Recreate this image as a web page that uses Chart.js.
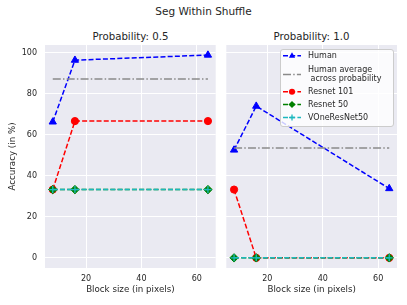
<!DOCTYPE html>
<html><head><meta charset="utf-8">
<script src="https://cdn.jsdelivr.net/npm/chart.js@4/dist/chart.umd.min.js"></script>
<style>
html,body{margin:0;padding:0;background:#fff;width:407px;height:305px;overflow:hidden;font-family:"DejaVu Sans",sans-serif;color:#262626}
.t{position:absolute;white-space:nowrap;transform:translate(-50%,-50%);}
#c1{position:absolute;left:0;top:0}
#c2{position:absolute;left:221px;top:0}
</style></head><body>
<div class="t" style="left:203.5px;top:11px;font-size:10.5px">Seg Within Shuffle</div>
<div class="t" style="left:130.5px;top:36px;font-size:10.2px">Probability: 0.5</div>
<div class="t" style="left:311.5px;top:36px;font-size:10.2px">Probability: 1.0</div>
<canvas id="c1" width="221" height="305"></canvas>
<canvas id="c2" width="186" height="305"></canvas>
<script>
const blockSizes = [8, 16, 64];
const probabilities = ["0.5", "1.0"];
const human_p05 = [66.3, 96.4, 98.9];
const humanAvg_p05 = [87.2, 87.2];
const resnet101_p05 = [33.3, 66.7, 66.7];
const resnet50_p05 = [33.3, 33.3, 33.3];
const vone_p05 = [33.3, 33.3, 33.3];
const human_p10 = [52.6, 74.0, 33.8];
const humanAvg_p10 = [53.6, 53.6];
const resnet101_p10 = [33.3, 0, 0];
const resnet50_p10 = [0, 0, 0];
const vone_p10 = [0, 0, 0];
const yTicks = [0, 20, 40, 60, 80, 100];
const xTicks = [20, 40, 60];
const legendLabels = ["Human", ["Human average", " across probability"], "Resnet 101", "Resnet 50", "VOneResNet50"];

const BLUE = "#0000ff", GRAY = "#8a8a8a", RED = "#ff0000", GREEN = "#008000", TEAL = "#1cb8bf";
const DASH = [5, 2.2], DASHDOT = [8, 2.2, 1.5, 2.2];
const TXT = "#262626";
const FONT = "DejaVu Sans";

function pts(xs, ys){ return ys.map((y,i)=>({x:xs[i], y:y})); }

function datasets(h, avg, r101, r50, v){
  return [
    {label:"Human", data:pts(blockSizes,h), borderColor:BLUE, backgroundColor:BLUE, borderDash:DASH, borderWidth:1.5, pointStyle:"triangle", pointRadius:4.2, pointBorderWidth:1, order:5},
    {label:"Human average across probability", data:pts([blockSizes[0], blockSizes[2]], avg), borderColor:GRAY, backgroundColor:GRAY, borderDash:DASHDOT, borderWidth:1.5, pointRadius:0, order:4},
    {label:"Resnet 101", data:pts(blockSizes,r101), borderColor:RED, backgroundColor:RED, borderDash:DASH, borderWidth:1.5, pointStyle:"circle", pointRadius:3.6, pointBorderWidth:1, order:3},
    {label:"Resnet 50", data:pts(blockSizes,r50), borderColor:GREEN, backgroundColor:GREEN, borderDash:DASH, borderWidth:1.5, pointStyle:"rectRot", pointRadius:4.2, pointBorderWidth:1, order:2},
    {label:"VOneResNet50", data:pts(blockSizes,v), borderColor:TEAL, backgroundColor:TEAL, borderDash:DASH, borderWidth:1.5, pointStyle:"cross", pointRadius:3.5, pointBorderWidth:1.3, order:1}
  ];
}

const bgPlugin = {
  id:"bg",
  beforeDraw(chart){
    const {ctx, chartArea:a} = chart;
    ctx.save(); ctx.fillStyle="#eaeaf2"; ctx.fillRect(a.left, a.top, a.right-a.left, a.bottom-a.top); ctx.restore();
  }
};

const legendPlugin = {
  id:"customLegend",
  afterDraw(chart){
    const ctx = chart.ctx;
    const ox = 221;
    const x0 = 280 - ox, y0 = 49, w = 113, h = 77;
    ctx.save();
    ctx.fillStyle = "rgba(255,255,255,0.8)";
    ctx.strokeStyle = "#cccccc";
    ctx.lineWidth = 1;
    ctx.beginPath();
    ctx.roundRect(x0+0.5, y0+0.5, w, h, 2.5);
    ctx.fill(); ctx.stroke();
    const ds = chart.data.datasets;
    const rowsY = [55.7, 74.5, 91.8, 104.5, 117.5];
    ctx.font = "8px '" + FONT + "'";
    ctx.textBaseline = "middle";
    const lx1 = 283 - ox, lx2 = 301 - ox, tx = 308 - ox;
    legendLabels.forEach((lab, i) => {
      const d = ds[i];
      const y = rowsY[i];
      ctx.strokeStyle = d.borderColor; ctx.lineWidth = 1.5;
      ctx.setLineDash(d.borderDash);
      ctx.beginPath(); ctx.moveTo(lx1, y); ctx.lineTo(lx2, y); ctx.stroke();
      ctx.setLineDash([]);
      if (d.pointRadius > 0) {
        ctx.fillStyle = d.backgroundColor; ctx.strokeStyle = d.borderColor; ctx.lineWidth = d.pointBorderWidth;
        ctx.beginPath();
        const r = d.pointRadius*0.85, cx=(lx1+lx2)/2;
        if (d.pointStyle === "triangle") { ctx.moveTo(cx, y-r); ctx.lineTo(cx+r*0.87, y+r*0.6); ctx.lineTo(cx-r*0.87, y+r*0.6); ctx.closePath(); ctx.fill(); }
        else if (d.pointStyle === "circle") { ctx.arc(cx, y, r, 0, Math.PI*2); ctx.fill(); }
        else if (d.pointStyle === "rectRot") { ctx.moveTo(cx, y-r); ctx.lineTo(cx+r, y); ctx.lineTo(cx, y+r); ctx.lineTo(cx-r, y); ctx.closePath(); ctx.fill(); }
        else if (d.pointStyle === "cross") { ctx.moveTo(cx-r, y); ctx.lineTo(cx+r, y); ctx.moveTo(cx, y-r); ctx.lineTo(cx, y+r); ctx.stroke(); }
      }
      ctx.fillStyle = TXT;
      if (Array.isArray(lab)) {
        ctx.fillText(lab[0], tx, y-4.7);
        ctx.fillText(lab[1], tx, y+4.7);
      } else ctx.fillText(lab, tx, y);
    });
    ctx.restore();
  }
};

function makeOptions(showY, padLeft, padRight, yWidth){
  return {
    responsive:false, animation:false,
    layout:{padding:{left:padLeft, right:padRight, top:45, bottom:0}},
    plugins:{legend:{display:false}, tooltip:{enabled:false}, title:{display:false}},
    scales:{
      x:{type:"linear", min:5.2, max:66.8,
         afterBuildTicks(s){ s.ticks = xTicks.map(v=>({value:v})); },
         afterFit(s){ s.height = 37; },
         grid:{color:"#ffffff", lineWidth:1, drawTicks:false},
         border:{display:false},
         ticks:{color:TXT, font:{family:FONT, size:8}, padding:6, maxRotation:0},
         title:{display:true, text:"Block size (in pixels)", color:TXT, font:{family:FONT, size:8.7}, padding:{top:0,bottom:10}}
      },
      y:{type:"linear", min:-4.94, max:103.8,
         afterBuildTicks(s){ s.ticks = yTicks.map(v=>({value:v})); },
         afterFit(s){ s.width = yWidth; },
         grid:{color:"#ffffff", lineWidth:1, drawTicks:false},
         border:{display:false},
         ticks:{display:showY, color:TXT, font:{family:FONT, size:8}, padding:8},
         title:{display:showY, text:"Accuracy (in %)", color:TXT, font:{family:FONT, size:8.7}, padding:{top:0,bottom:0}}
      }
    }
  };
}

new Chart(document.getElementById("c1"), {
  type:"line",
  data:{datasets:datasets(human_p05, humanAvg_p05, resnet101_p05, resnet50_p05, vone_p05)},
  options:makeOptions(true, 8, 5, 37),
  plugins:[bgPlugin]
});
new Chart(document.getElementById("c2"), {
  type:"line",
  data:{datasets:datasets(human_p10, humanAvg_p10, resnet101_p10, resnet50_p10, vone_p10)},
  options:makeOptions(false, 0, 10, 5),
  plugins:[bgPlugin, legendPlugin]
});
</script>
</body></html>
